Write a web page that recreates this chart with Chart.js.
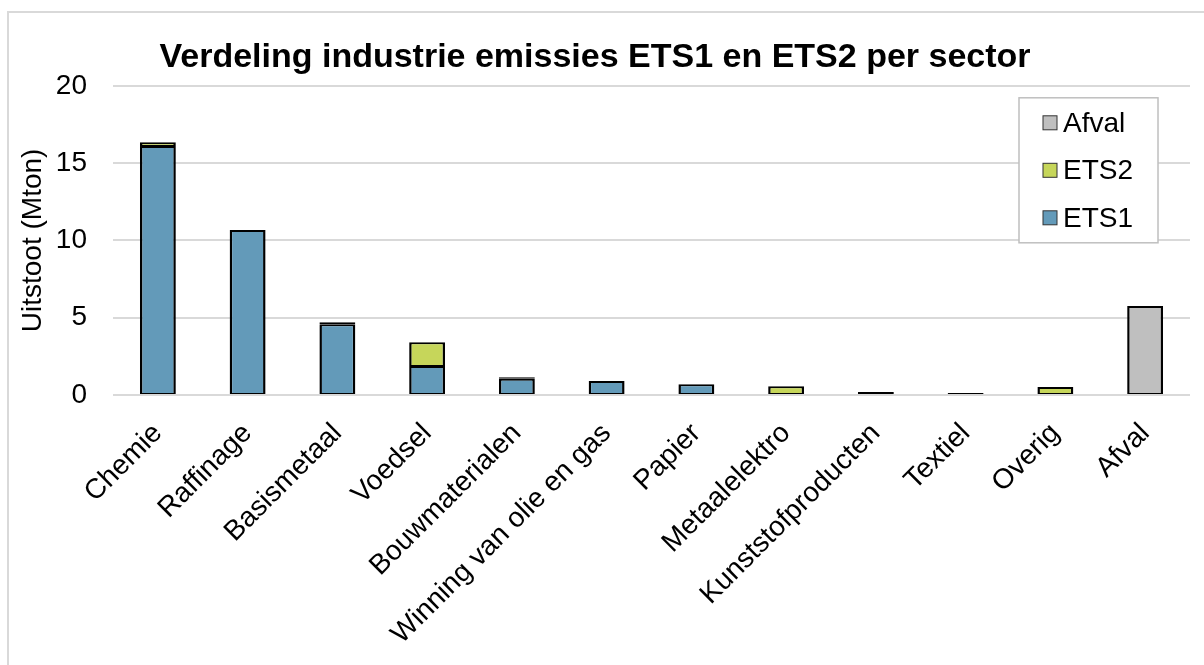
<!DOCTYPE html>
<html>
<head>
<meta charset="utf-8">
<script src="https://cdn.jsdelivr.net/npm/chart.js@4"></script>
<style>
  html, body { margin: 0; padding: 0; background: #fff; overflow: hidden; }
  #frame {
    position: absolute; left: 7px; top: 11px; width: 1300px; height: 800px;
    border-top: 2px solid #d9d9d9; border-left: 2px solid #d9d9d9;
  }
  #wrap { position: absolute; left: 0; top: 0; width: 1204px; height: 665px; }
</style>
</head>
<body>
<div id="frame"></div>
<div id="wrap"><canvas id="myChart" width="1204" height="665"></canvas></div>
<script>
var sectors = ['Chemie', 'Raffinage', 'Basismetaal', 'Voedsel', 'Bouwmaterialen',
               'Winning van olie en gas', 'Papier', 'Metaalelektro',
               'Kunststofproducten', 'Textiel', 'Overig', 'Afval'];
var ets1 = [16.1, 10.68, 4.58, 1.88, 1.05, 0.9, 0.7, null, 0.2, 0.13, null, null];
var ets2 = [0.25, null, 0.13, 1.53, 0.1, null, null, 0.57, null, null, 0.52, null];
var afval = [null, null, null, null, null, null, null, null, null, null, null, 5.75];
var yTicks = [0, 5, 10, 15, 20];

var FONT = '"Liberation Sans", Arial, sans-serif';

// legend drawn inside the plot, boxed, in reverse dataset order
var boxLegend = {
  id: 'boxLegend',
  afterDraw: function (chart) {
    var c = chart.ctx, a = chart.chartArea;
    var right = a.right - 32, top = a.top + 12, w = 139, h = 145;
    var left = right - w;
    c.save();
    c.fillStyle = '#fff';
    c.fillRect(left, top, w, h);
    c.strokeStyle = '#bfbfbf';
    c.lineWidth = 1.5;
    c.strokeRect(left, top, w, h);
    c.font = '28px ' + FONT;
    c.textBaseline = 'middle';
    var sets = chart.data.datasets.slice().reverse();
    sets.forEach(function (ds, i) {
      var cy = top + 25 + i * 47.5;
      c.fillStyle = ds.backgroundColor;
      c.fillRect(left + 24, cy - 7, 14, 14);
      c.strokeStyle = '#333';
      c.lineWidth = 1;
      c.strokeRect(left + 24, cy - 7, 14, 14);
      c.fillStyle = '#000';
      c.fillText(ds.label, left + 44, cy + 1);
    });
    c.restore();
  }
};

var ctx = document.getElementById('myChart');
var myChart = new Chart(ctx, {
  type: 'bar',
  data: {
    labels: sectors,
    datasets: [
      { label: 'ETS1', data: ets1, backgroundColor: '#639ab9' },
      { label: 'ETS2', data: ets2, backgroundColor: '#c6d65a' },
      { label: 'Afval', data: afval, backgroundColor: '#bfbfbf' }
    ]
  },
  options: {
    responsive: false,
    animation: false,
    layout: { padding: { left: 0, right: 14, top: 0, bottom: 0 } },
    datasets: {
      bar: {
        borderColor: '#000',
        // thin top/bottom so stacked segments share a single divider line
        borderWidth: { top: 2, bottom: 1, left: 2.5, right: 2.5 },
        categoryPercentage: 1.0,
        barPercentage: 0.4,
        borderSkipped: false
      }
    },
    scales: {
      x: {
        stacked: true,
        grid: { display: false, drawTicks: false },
        border: { display: false },
        ticks: {
          color: '#000',
          font: { family: FONT, size: 28 },
          minRotation: 45,
          maxRotation: 45,
          padding: 22,
          autoSkip: false
        },
        afterFit: function (scale) { scale.height = 270; }
      },
      y: {
        stacked: true,
        min: 0,
        max: 20,
        afterBuildTicks: function (scale) {
          scale.ticks = yTicks.map(function (v) { return { value: v }; });
        },
        grid: { color: '#d9d9d9', lineWidth: 2, drawTicks: false },
        border: { display: false },
        ticks: {
          color: '#000',
          font: { family: FONT, size: 28 },
          padding: 26
        },
        title: {
          display: true,
          text: 'Uitstoot (Mton)',
          color: '#000',
          font: { family: FONT, size: 28 },
          padding: { top: 16, bottom: 0 }
        },
        afterFit: function (scale) { scale.width = 113; }
      }
    },
    plugins: {
      legend: { display: false },
      tooltip: { enabled: false },
      title: {
        display: true,
        text: 'Verdeling industrie emissies ETS1 en ETS2 per sector',
        color: '#000',
        font: { family: FONT, size: 34, weight: 'bold' },
        padding: { top: 37, bottom: 8 }
      }
    }
  },
  plugins: [boxLegend]
});
</script>
</body>
</html>
